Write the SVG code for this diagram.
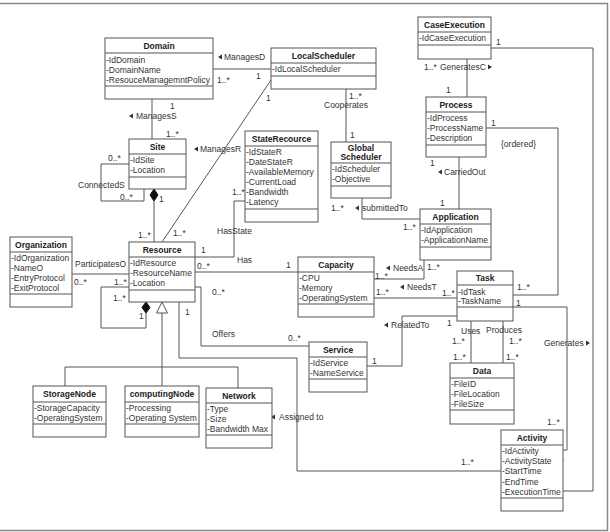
<svg xmlns="http://www.w3.org/2000/svg" width="610" height="532" viewBox="0 0 610 532">
<style>
text{font-family:"Liberation Sans",Arial,sans-serif;font-size:8.5px;fill:#333}
.t{font-weight:bold;fill:#222;text-anchor:middle}
.b{fill:#fff;stroke:#555;stroke-width:1}
.s{stroke:#555;stroke-width:1;fill:none}
.c path,.c line{stroke:#555;stroke-width:1;fill:none}
.a{fill:#333}
</style>
<rect x="-2" y="3.5" width="609.5" height="527" fill="#fff" stroke="#888" stroke-width="1.5"/>

<g id="connectors" class="c">
<path d="M213 69H271"/>
<path d="M152 99V139"/>
<path d="M271 80L162 242"/>
<path d="M346 89V142"/>
<path d="M129 164H101V201H144V189"/>
<path d="M154 201V242"/>
<path d="M72 274H129"/>
<path d="M129 287H101V328H146V313"/>
<path d="M162 313V386M65 386V367H238V388"/>
<path d="M179 302V358H297V471H501"/>
<path d="M195 287H201V346H309"/>
<path d="M195 272H298"/>
<path d="M195 257H234V201H245"/>
<path d="M362 198V219H420"/>
<path d="M467 59V97"/>
<path d="M459 157V209"/>
<path d="M486 128H558V295H513"/>
<path d="M491 48H593V491H563"/>
<path d="M424 260V279H374"/>
<path d="M374 298H457"/>
<path d="M367 366H402V316H457"/>
<path d="M471 321V363"/>
<path d="M503 321V363"/>
<path d="M513 307H567V450H563"/>
<polygon points="154,189 158,195 154,201 150,195" fill="#111" stroke="#111"/>
<polygon points="146,302 150,307.5 146,313 142,307.5" fill="#111" stroke="#111"/>
<polygon points="162,302 167.5,313 156.5,313" fill="#fff" stroke="#555"/>
<g class="a">
<polygon points="218,57 222,54.5 222,59.5"/>
<polygon points="129,116 133,113.5 133,118.5"/>
<polygon points="194,149 198,146.5 198,151.5"/>
<polygon points="355,208 359,205.5 359,210.5"/>
<polygon points="492,67 488,64.5 488,69.5"/>
<polygon points="438,172 442,169.5 442,174.5"/>
<polygon points="386,268 390,265.5 390,270.5"/>
<polygon points="400,287 404,284.5 404,289.5"/>
<polygon points="384,325 388,322.5 388,327.5"/>
<polygon points="590,343 586,340.5 586,345.5"/>
<polygon points="271,417 275,414.5 275,419.5"/>
</g>
<text x="224" y="60">ManagesD</text>
<text x="217" y="83">1..*</text>
<text x="256" y="79">1</text>
<text x="170" y="109">1</text>
<text x="136" y="119">ManagesS</text>
<text x="166" y="137">1..*</text>
<text x="266" y="101">1</text>
<text x="173" y="236">1..*</text>
<text x="200" y="152">ManagesR</text>
<text x="349" y="99">1..*</text>
<text x="324" y="108">Cooperates</text>
<text x="350" y="138">1</text>
<text x="108" y="161">0..*</text>
<text x="120" y="200">0..*</text>
<text x="78" y="188">ConnectedS</text>
<text x="159" y="202">1</text>
<text x="138" y="238">1..*</text>
<text x="75" y="267">ParticipatesO</text>
<text x="74" y="285">0..*</text>
<text x="114" y="285">1..*</text>
<text x="113" y="301">1..*</text>
<text x="139" y="319">1</text>
<text x="185" y="315">1</text>
<text x="461" y="465">1..*</text>
<text x="279" y="420">Assigned to</text>
<text x="212" y="295">0..*</text>
<text x="212" y="337">Offers</text>
<text x="288" y="341">0..*</text>
<text x="197" y="269">0..*</text>
<text x="237" y="263">Has</text>
<text x="286" y="268">1</text>
<text x="201" y="253">1</text>
<text x="217" y="234">HasState</text>
<text x="232" y="195">1..*</text>
<text x="331" y="211">1..*</text>
<text x="362" y="211">submittedTo</text>
<text x="403" y="230">1..*</text>
<text x="424" y="70">1..*</text>
<text x="440" y="70">GeneratesC</text>
<text x="446" y="93">1</text>
<text x="430" y="166">1</text>
<text x="444" y="175">CarriedOut</text>
<text x="440" y="206">1</text>
<text x="491" y="126">1</text>
<text x="501" y="147">{ordered}</text>
<text x="517" y="290">1..*</text>
<text x="496" y="45">1</text>
<text x="551" y="464">1..*</text>
<text x="427" y="270">1..*</text>
<text x="393" y="271">NeedsA</text>
<text x="375" y="279">1..*</text>
<text x="376" y="295">1..*</text>
<text x="407" y="290">NeedsT</text>
<text x="442" y="296">1..*</text>
<text x="372" y="364">1</text>
<text x="391" y="328">RelatedTo</text>
<text x="447" y="326">1</text>
<text x="461" y="334">Uses</text>
<text x="452" y="344">1..*</text>
<text x="453" y="360">1..*</text>
<text x="486" y="333">Produces</text>
<text x="509" y="344">1..*</text>
<text x="506" y="360">1..*</text>
<text x="516" y="306">1</text>
<text x="544" y="346">Generates</text>
<text x="547" y="425">1..*</text>
</g>

<g id="Domain">
<rect class="b" x="105" y="38" width="108" height="61"/>
<path class="s" d="M105 53H213M105 86H213"/>
<text class="t" x="159" y="49">Domain</text>
<text x="106" y="63">-IdDomain</text>
<text x="106" y="73">-DomainName</text>
<text x="106" y="83">-ResouceManagemntPolicy</text>
</g>
<g id="LocalScheduler">
<rect class="b" x="271" y="48" width="105" height="41"/>
<path class="s" d="M271 63H376M271 76H376"/>
<text class="t" x="323.5" y="59">LocalScheduler</text>
<text x="272" y="72">-IdLocalScheduler</text>
</g>
<g id="Site">
<rect class="b" x="129" y="139" width="57" height="50"/>
<path class="s" d="M129 154H186M129 177H186"/>
<text class="t" x="157.5" y="150">Site</text>
<text x="130" y="163">-IdSite</text>
<text x="130" y="173">-Location</text>
</g>
<g id="StateRecource">
<rect class="b" x="245" y="131" width="73" height="91"/>
<path class="s" d="M245 146H318M245 209H318"/>
<text class="t" x="281.5" y="142">StateRecource</text>
<text x="246" y="155">-IdStateR</text>
<text x="246" y="165">-DateStateR</text>
<text x="246" y="175">-AvailableMemory</text>
<text x="246" y="185">-CurrentLoad</text>
<text x="246" y="195">-Bandwidth</text>
<text x="246" y="205">-Latency</text>
</g>
<g id="GlobalScheduler">
<rect class="b" x="331" y="142" width="60" height="56"/>
<path class="s" d="M331 163H391M331 186H391"/>
<text class="t" x="361" y="151">Global</text>
<text class="t" x="361" y="160">Scheduler</text>
<text x="332" y="172">-IdScheduler</text>
<text x="332" y="182">-Objective</text>
</g>
<g id="CaseExecution">
<rect class="b" x="418" y="17" width="73" height="42"/>
<path class="s" d="M418 32H491M418 45H491"/>
<text class="t" x="454.5" y="28">CaseExecution</text>
<text x="419" y="41">-IdCaseExecution</text>
</g>
<g id="Process">
<rect class="b" x="426" y="97" width="60" height="60"/>
<path class="s" d="M426 112H486M426 145H486"/>
<text class="t" x="456" y="108">Process</text>
<text x="427" y="121">-IdProcess</text>
<text x="427" y="131">-ProcessName</text>
<text x="427" y="141">-Description</text>
</g>
<g id="Application">
<rect class="b" x="420" y="209" width="71" height="51"/>
<path class="s" d="M420 224H491M420 247H491"/>
<text class="t" x="455.5" y="220">Application</text>
<text x="421" y="233">-IdApplication</text>
<text x="421" y="243">-ApplicationName</text>
</g>
<g id="Organization">
<rect class="b" x="10" y="237" width="62" height="70"/>
<path class="s" d="M10 252H72M10 294H72"/>
<text class="t" x="41" y="248">Organization</text>
<text x="11" y="261">-IdOrganization</text>
<text x="11" y="271">-NameO</text>
<text x="11" y="281">-EntryProtocol</text>
<text x="11" y="291">-ExitProtocol</text>
</g>
<g id="Resource">
<rect class="b" x="129" y="242" width="66" height="60"/>
<path class="s" d="M129 257H195M129 290H195"/>
<text class="t" x="162" y="253">Resource</text>
<text x="130" y="266">-IdResource</text>
<text x="130" y="276">-ResourceName</text>
<text x="130" y="286">-Location</text>
</g>
<g id="Capacity">
<rect class="b" x="298" y="257" width="76" height="60"/>
<path class="s" d="M298 272H374M298 304H374"/>
<text class="t" x="336" y="268">Capacity</text>
<text x="299" y="281">-CPU</text>
<text x="299" y="291">-Memory</text>
<text x="299" y="301">-OperatingSystem</text>
</g>
<g id="Task">
<rect class="b" x="457" y="271" width="56" height="50"/>
<path class="s" d="M457 285H513M457 307H513"/>
<text class="t" x="485" y="281">Task</text>
<text x="458" y="295">-IdTask</text>
<text x="458" y="304">-TaskName</text>
</g>
<g id="Service">
<rect class="b" x="309" y="342" width="58" height="50"/>
<path class="s" d="M309 357H367M309 379H367"/>
<text class="t" x="338" y="353">Service</text>
<text x="310" y="366">-IdService</text>
<text x="310" y="376">-NameService</text>
</g>
<g id="Data">
<rect class="b" x="450" y="363" width="64" height="61"/>
<path class="s" d="M450 378H514M450 410H514"/>
<text class="t" x="482" y="374">Data</text>
<text x="451" y="387">-FileID</text>
<text x="451" y="397">-FileLocation</text>
<text x="451" y="407">-FileSize</text>
</g>
<g id="Activity">
<rect class="b" x="501" y="430" width="62" height="81"/>
<path class="s" d="M501 445H563M501 498H563"/>
<text class="t" x="532" y="441">Activity</text>
<text x="502" y="454">-IdActivity</text>
<text x="502" y="464">-ActivityState</text>
<text x="502" y="474">-StartTime</text>
<text x="502" y="485">-EndTime</text>
<text x="502" y="495">-ExecutionTime</text>
</g>
<g id="StorageNode">
<rect class="b" x="33" y="386" width="73" height="51"/>
<path class="s" d="M33 402H106M33 424H106"/>
<text class="t" x="69.5" y="397">StorageNode</text>
<text x="34" y="411">-StorageCapacity</text>
<text x="34" y="421">-OperatingSystem</text>
</g>
<g id="computingNode">
<rect class="b" x="125" y="386" width="74" height="51"/>
<path class="s" d="M125 402H199M125 424H199"/>
<text class="t" x="162" y="397">computingNode</text>
<text x="126" y="411">-Processing</text>
<text x="126" y="421">-Operating System</text>
</g>
<g id="Network">
<rect class="b" x="206" y="388" width="66" height="60"/>
<path class="s" d="M206 403H272M206 435H272"/>
<text class="t" x="239" y="399">Network</text>
<text x="207" y="412">-Type</text>
<text x="207" y="422">-Size</text>
<text x="207" y="432">-Bandwidth Max</text>
</g>
</svg>
